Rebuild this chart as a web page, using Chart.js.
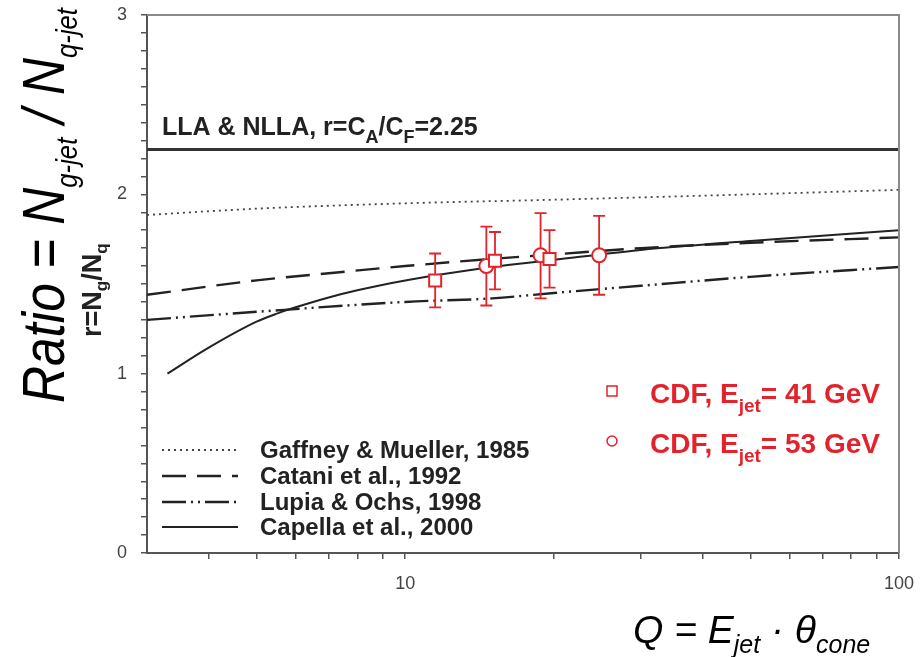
<!DOCTYPE html>
<html>
<head>
<meta charset="utf-8">
<script src="https://cdn.jsdelivr.net/npm/chart.js@4.4.1/dist/chart.umd.min.js"></script>
<style>
  html, body { margin: 0; padding: 0; background: #fff; }
  #ratioChart { display: block; }
</style>
</head>
<body>
<canvas id="ratioChart" width="924" height="657"></canvas>
<script>
// Q range of the plot and the LLA/NLLA asymptote
const qRange = [3, 100];
const llaRatio = 2.25;

// Theory curves, Q = E_jet * theta_cone vs r = N_g / N_q
const gaffneyQ = [3, 5, 10, 20, 50, 100];
const gaffneyR = [1.885, 1.92, 1.95, 1.97, 2.0, 2.025];

const cataniQ = [3, 5, 7, 10, 15, 20, 30, 50, 100];
const cataniR = [1.44, 1.52, 1.56, 1.6, 1.64, 1.665, 1.7, 1.73, 1.76];

const lupiaQ = [3, 5, 10, 15, 20, 30, 50, 100];
const lupiaR = [1.3, 1.345, 1.4, 1.42, 1.45, 1.49, 1.54, 1.595];

const capellaQ = [3.3, 4, 5, 5.5, 6, 7, 8, 10, 15, 20, 30, 50, 100];
const capellaR = [1.0, 1.145, 1.29, 1.335, 1.37, 1.425, 1.465, 1.52, 1.595, 1.635, 1.69, 1.74, 1.8];

// CDF measurements with their error bars
const cdf41Q = [11.5, 15.2, 19.6];
const cdf41R = [1.52, 1.63, 1.64];
const cdf41Hi = [1.67, 1.79, 1.80];
const cdf41Lo = [1.37, 1.47, 1.48];

const cdf53Q = [14.6, 18.8, 24.7];
const cdf53R = [1.60, 1.66, 1.66];
const cdf53Hi = [1.82, 1.895, 1.88];
const cdf53Lo = [1.38, 1.42, 1.44];

// Axis ticks
const xTickValues = [4, 5, 6, 7, 8, 9, 10, 20, 30, 40, 50, 60, 70, 80, 90, 100];
const xTickLabels = { 10: "10", 100: "100" };
const yMajor = [0, 1, 2, 3];
const yMinorPerUnit = 10;

const legendNames = [
  "Gaffney & Mueller, 1985",
  "Catani et al., 1992",
  "Lupia & Ochs, 1998",
  "Capella et al., 2000",
];

const RED = "#e3232b";
const INK = "#222";
const FONT = "'Liberation Sans', Arial, Helvetica, sans-serif";

const lineStyles = [
  { color: "#444", width: 1.8, dash: [2, 4] },
  { color: "#222", width: 2.4, dash: [24, 11] },
  { color: "#222", width: 2.4, dash: [24, 5, 2, 5, 2, 5] },
  { color: "#222", width: 2, dash: [] },
];

const toPoints = (xs, ys) => xs.map((x, i) => ({ x, y: ys[i] }));

function curve(label, xs, ys, style) {
  return {
    label,
    data: toPoints(xs, ys),
    borderColor: style.color,
    borderWidth: style.width,
    borderDash: style.dash,
    pointRadius: 0,
    fill: false,
    cubicInterpolationMode: "monotone",
  };
}

function markers(label, xs, ys, shape, radius) {
  return {
    label,
    data: toPoints(xs, ys),
    showLine: false,
    pointStyle: shape,
    pointRadius: radius,
    pointBorderColor: RED,
    pointBackgroundColor: "#fff",
    pointBorderWidth: 2,
  };
}

// Draws a run of text pieces (each with its own font and baseline shift)
function drawRun(ctx, pieces, x, y) {
  let cx = x;
  pieces.forEach((p) => {
    ctx.font = p.font;
    ctx.fillText(p.t, cx, y + (p.dy || 0));
    cx += ctx.measureText(p.t).width;
  });
  return cx - x;
}

function runWidth(ctx, pieces) {
  let w = 0;
  pieces.forEach((p) => {
    ctx.font = p.font;
    w += ctx.measureText(p.t).width;
  });
  return w;
}

// Error bars sit under the markers but over the theory curves
const errorBars = {
  id: "errorBars",
  beforeDatasetDraw(chart, args) {
    if (args.index !== 1) return;
    const { ctx, scales } = chart;
    const sets = [
      [cdf41Q, cdf41Hi, cdf41Lo],
      [cdf53Q, cdf53Hi, cdf53Lo],
    ];
    ctx.save();
    ctx.strokeStyle = RED;
    ctx.lineWidth = 1.8;
    sets.forEach(([qs, his, los]) => {
      qs.forEach((q, i) => {
        const px = scales.x.getPixelForValue(q);
        const top = scales.y.getPixelForValue(his[i]);
        const bot = scales.y.getPixelForValue(los[i]);
        ctx.beginPath();
        ctx.moveTo(px, top);
        ctx.lineTo(px, bot);
        ctx.moveTo(px - 6, top);
        ctx.lineTo(px + 6, top);
        ctx.moveTo(px - 6, bot);
        ctx.lineTo(px + 6, bot);
        ctx.stroke();
      });
    });
    ctx.restore();
  },
};

// Frame, titles, annotation and the two legends
const decorations = {
  id: "decorations",
  afterDraw(chart) {
    const { ctx, chartArea: a } = chart;
    ctx.save();

    // top and right frame
    ctx.strokeStyle = "#8a8a8a";
    ctx.lineWidth = 2;
    ctx.beginPath();
    ctx.moveTo(a.left, a.top);
    ctx.lineTo(a.right, a.top);
    ctx.lineTo(a.right, a.bottom);
    ctx.stroke();

    ctx.textBaseline = "alphabetic";
    ctx.textAlign = "left";

    // LLA annotation
    ctx.fillStyle = INK;
    const b25 = `bold 25px ${FONT}`;
    const b18 = `bold 18px ${FONT}`;
    drawRun(ctx, [
      { t: "LLA & NLLA, r=C", font: b25 },
      { t: "A", font: b18, dy: 8 },
      { t: "/C", font: b25 },
      { t: "F", font: b18, dy: 8 },
      { t: "=2.25", font: b25 },
    ], 162, 135);

    // big rotated title
    const i60 = `italic 60px ${FONT}`;
    const i30 = `italic 30px ${FONT}`;
    const bigTitle = [
      { t: "Ratio = N", font: i60 },
      { t: "g-jet", font: i30, dy: 13 },
      { t: " / N", font: i60 },
      { t: "q-jet", font: i30, dy: 13 },
    ];
    const span = 395;
    const sx = Math.min(1, span / runWidth(ctx, bigTitle));
    ctx.save();
    ctx.translate(64, 403);
    ctx.rotate(-Math.PI / 2);
    ctx.scale(sx, 1);
    ctx.fillStyle = "#000";
    drawRun(ctx, bigTitle, 0, 0);
    ctx.restore();

    // small rotated axis title
    const b27 = `bold 27px ${FONT}`;
    const b17 = `bold 17px ${FONT}`;
    ctx.save();
    ctx.translate(101, 337);
    ctx.rotate(-Math.PI / 2);
    ctx.fillStyle = INK;
    drawRun(ctx, [
      { t: "r=N", font: b27 },
      { t: "g", font: b17, dy: 6 },
      { t: "/N", font: b27 },
      { t: "q", font: b17, dy: 6 },
    ], 0, 0);
    ctx.restore();

    // x title
    const i39 = `italic 39px ${FONT}`;
    const i25 = `italic 25px ${FONT}`;
    ctx.fillStyle = "#000";
    drawRun(ctx, [
      { t: "Q = E", font: i39 },
      { t: "jet", font: i25, dy: 10 },
      { t: " \u00b7 \u03b8", font: i39 },
      { t: "cone", font: i25, dy: 10 },
    ], 633, 643);

    // theory legend
    const lineY = [450, 476, 502, 527];
    legendNames.forEach((name, i) => {
      const s = lineStyles[i];
      ctx.strokeStyle = s.color;
      ctx.lineWidth = s.width;
      ctx.setLineDash(s.dash);
      ctx.beginPath();
      ctx.moveTo(162, lineY[i]);
      ctx.lineTo(238, lineY[i]);
      ctx.stroke();
      ctx.setLineDash([]);
      ctx.fillStyle = INK;
      ctx.font = `bold 24px ${FONT}`;
      ctx.fillText(name, 260, lineY[i] + 8);
    });

    // CDF legend
    ctx.strokeStyle = RED;
    ctx.lineWidth = 1.5;
    ctx.strokeRect(607, 386, 10, 10);
    ctx.beginPath();
    ctx.arc(612, 441, 5, 0, Math.PI * 2);
    ctx.stroke();
    ctx.fillStyle = RED;
    const r28 = `bold 28px ${FONT}`;
    const r19 = `bold 19px ${FONT}`;
    drawRun(ctx, [
      { t: "CDF, E", font: r28 },
      { t: "jet", font: r19, dy: 9 },
      { t: "= 41 GeV", font: r28 },
    ], 650, 403);
    drawRun(ctx, [
      { t: "CDF, E", font: r28 },
      { t: "jet", font: r19, dy: 9 },
      { t: "= 53 GeV", font: r28 },
    ], 650, 453);

    ctx.restore();
  },
};

const ctx = document.getElementById("ratioChart").getContext("2d");
new Chart(ctx, {
  type: "line",
  data: {
    datasets: [
      markers("CDF, E_jet = 41 GeV", cdf41Q, cdf41R, "rect", 8.5),
      markers("CDF, E_jet = 53 GeV", cdf53Q, cdf53R, "circle", 7),
      {
        label: "LLA & NLLA",
        data: toPoints(qRange, [llaRatio, llaRatio]),
        borderColor: "#333",
        borderWidth: 3,
        pointRadius: 0,
      },
      curve(legendNames[0], gaffneyQ, gaffneyR, lineStyles[0]),
      curve(legendNames[1], cataniQ, cataniR, lineStyles[1]),
      curve(legendNames[2], lupiaQ, lupiaR, lineStyles[2]),
      curve(legendNames[3], capellaQ, capellaR, lineStyles[3]),
    ],
  },
  options: {
    responsive: false,
    animation: false,
    layout: { padding: { top: 15, right: 25, left: 0, bottom: 0 } },
    plugins: { legend: { display: false }, tooltip: { enabled: false } },
    scales: {
      x: {
        type: "logarithmic",
        min: qRange[0],
        max: qRange[1],
        afterBuildTicks(scale) {
          scale.ticks = xTickValues.map((v) => ({ value: v }));
        },
        afterFit(scale) {
          scale.height = 104;
          scale.paddingLeft = 0;
          scale.paddingRight = 0;
        },
        ticks: {
          autoSkip: false,
          maxRotation: 0,
          padding: 14,
          color: "#444",
          font: { family: FONT, size: 18 },
          callback: (v) => xTickLabels[v] || "",
        },
        grid: { drawOnChartArea: false, drawTicks: true, tickLength: 6, color: "#555", lineWidth: 1.5 },
        border: { color: "#555", width: 2 },
      },
      y: {
        type: "linear",
        min: yMajor[0],
        max: yMajor[yMajor.length - 1],
        afterBuildTicks(scale) {
          const n = (yMajor[yMajor.length - 1] - yMajor[0]) * yMinorPerUnit;
          const ticks = [];
          for (let i = 0; i <= n; i++) ticks.push({ value: yMajor[0] + i / yMinorPerUnit });
          scale.ticks = ticks;
        },
        afterFit(scale) {
          scale.width = 147;
          scale.paddingTop = 0;
          scale.paddingBottom = 0;
        },
        ticks: {
          autoSkip: false,
          padding: 14,
          color: "#444",
          font: { family: FONT, size: 18 },
          callback: (v) => (yMajor.includes(Math.round(v * 1000) / 1000) ? String(Math.round(v)) : ""),
        },
        grid: { drawOnChartArea: false, drawTicks: true, tickLength: 6, color: "#555", lineWidth: 1.5 },
        border: { color: "#555", width: 2 },
      },
    },
  },
  plugins: [errorBars, decorations],
});
</script>
</body>
</html>
